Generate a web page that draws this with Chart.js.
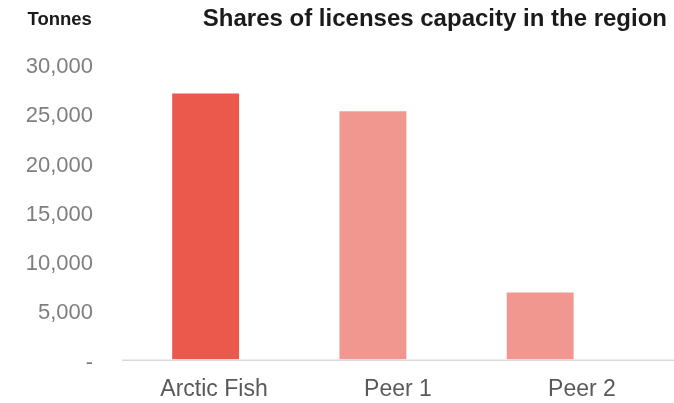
<!DOCTYPE html>
<html>
<head>
<meta charset="utf-8">
<script src="https://cdn.jsdelivr.net/npm/chart.js@4/dist/chart.umd.min.js"></script>
<style>
  html, body { margin: 0; padding: 0; background: #fff; }
  #wrap { width: 674px; height: 403px; position: relative; }
</style>
</head>
<body>
<div id="wrap"><canvas id="c" width="674" height="403"></canvas></div>
<script>
const categories = ["Arctic Fish", "Peer 1", "Peer 2"];
const capacity = [27000, 25200, 6800];
const barColors = ["#EA594C", "#F2978F", "#F2978F"];
const yTicks = [0, 5000, 10000, 15000, 20000, 25000, 30000];
const titleText = "Shares of licenses capacity in the region";
const unitText = "Tonnes";

const FONT = "'Liberation Sans', Arial, sans-serif";

const headerPlugin = {
  id: 'header',
  afterDraw(chart) {
    const ctx = chart.ctx;
    ctx.save();
    ctx.fillStyle = '#1a1a1a';
    ctx.textBaseline = 'middle';
    ctx.font = "bold 18.5px " + FONT;
    ctx.textAlign = 'left';
    ctx.fillText(unitText, 27.5, 19.5);
    ctx.font = "bold 24px " + FONT;
    ctx.textAlign = 'right';
    ctx.fillText(titleText, 667, 19);
    ctx.restore();
  }
};

const baselinePlugin = {
  id: 'baseline',
  afterDatasetsDraw(chart) {
    const ctx = chart.ctx;
    const y = chart.scales.y.getPixelForValue(0);
    ctx.save();
    ctx.strokeStyle = '#D9D9D9';
    ctx.lineWidth = 1.5;
    ctx.beginPath();
    ctx.moveTo(chart.chartArea.left, y + 0.75);
    ctx.lineTo(chart.width, y + 0.75);
    ctx.stroke();
    ctx.restore();
  }
};

new Chart(document.getElementById('c'), {
  type: 'bar',
  data: {
    labels: categories,
    datasets: [{
      xAxisID: 'xb',
      data: capacity.map((v, i) => ({ x: i, y: v })),
      backgroundColor: barColors,
      borderWidth: 0,
      barPercentage: 0.4,
      categoryPercentage: 1.0
    }]
  },
  options: {
    responsive: false,
    animation: false,
    devicePixelRatio: 1,
    layout: { padding: { top: 64, right: 0, left: 0, bottom: 0 } },
    plugins: {
      legend: { display: false },
      title: { display: false },
      tooltip: { enabled: false }
    },
    scales: {
      x: {
        type: 'category',
        position: 'bottom',
        grid: { display: false, drawTicks: false },
        border: { display: false },
        ticks: {
          color: '#595959',
          font: { family: FONT, size: 23 },
          padding: 16,
          maxRotation: 0
        },
        afterFit(scale) { scale.height = 43.5; }
      },
      xb: {
        type: 'linear',
        display: false,
        offset: false,
        min: -0.5,
        max: 2.8,
        afterBuildTicks(scale) { scale.ticks = categories.map((c, i) => ({ value: i })); }
      },
      y: {
        min: 0,
        max: 30000,
        grid: { display: false, drawTicks: false },
        border: { display: false },
        afterBuildTicks(scale) { scale.ticks = yTicks.map(v => ({ value: v })); },
        afterFit(scale) { scale.width = 122; },
        ticks: {
          color: '#7F7F7F',
          font: { family: FONT, size: 22 },
          padding: 29,
          labelOffset: 3,
          callback: (v) => v === 0 ? '-' : Number(v).toLocaleString('en-US')
        }
      }
    }
  },
  plugins: [headerPlugin, baselinePlugin]
});
</script>
</body>
</html>
